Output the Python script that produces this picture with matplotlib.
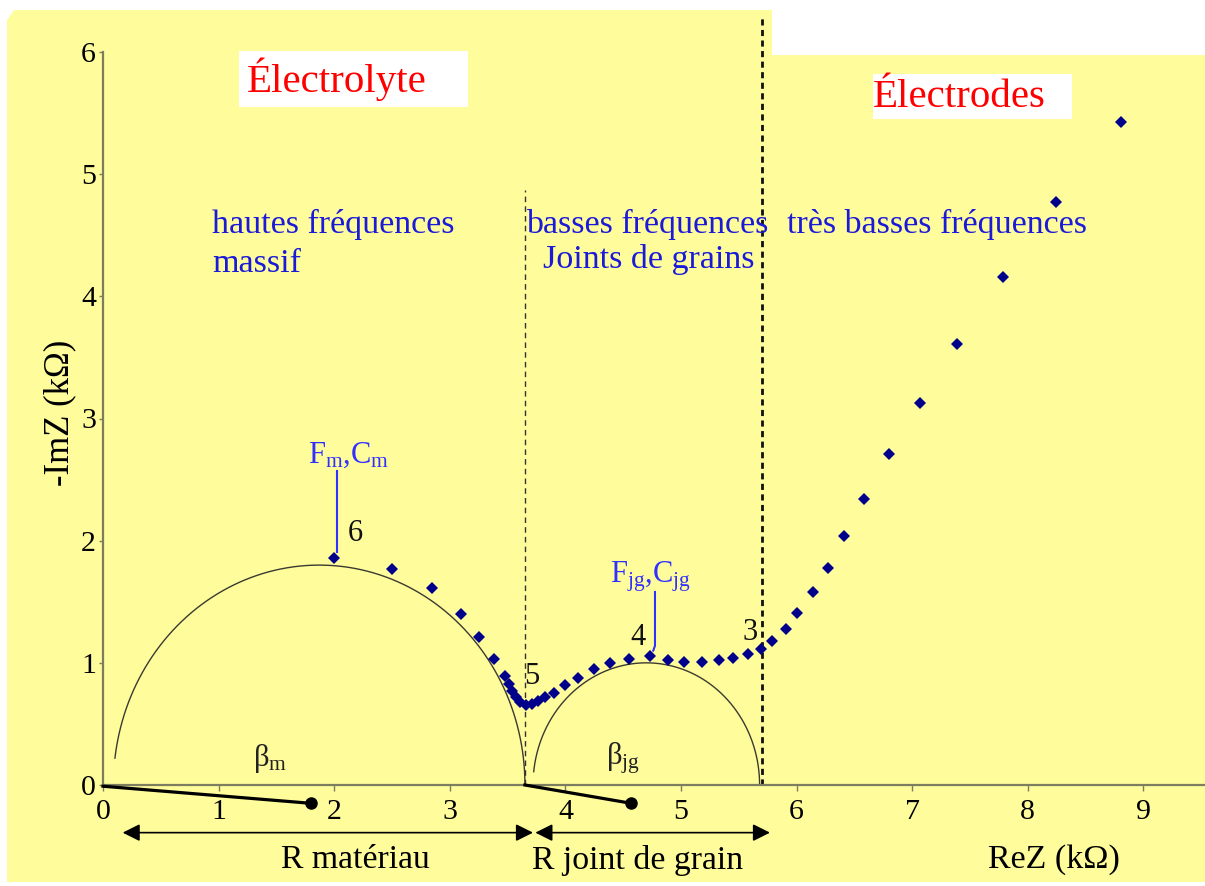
import numpy as np
import matplotlib
matplotlib.use("Agg")
import matplotlib.pyplot as plt
from matplotlib.patches import Polygon, Rectangle

plt.rcParams['font.family'] = ['Liberation Serif', 'DejaVu Serif']
plt.rcParams['mathtext.fontset'] = 'custom'
plt.rcParams['mathtext.rm'] = 'Liberation Serif'
plt.rcParams['mathtext.it'] = 'Liberation Serif:italic'

# Nyquist impedance spectrum (kOhm)
re_z = [2.00, 2.50, 2.85, 3.10, 3.25, 3.385, 3.475, 3.51, 3.535, 3.57, 3.607,
        3.657, 3.708, 3.76, 3.82, 3.90, 4.00, 4.11, 4.25, 4.39, 4.55, 4.73,
        4.89, 5.03, 5.18, 5.33, 5.45, 5.58, 5.69, 5.79, 5.905, 6.005, 6.14,
        6.27, 6.41, 6.585, 6.80, 7.07, 7.39, 7.785, 8.24, 8.81]
im_z = [1.86, 1.77, 1.61, 1.40, 1.21, 1.03, 0.895, 0.83, 0.77, 0.72, 0.68,
        0.655, 0.66, 0.69, 0.72, 0.755, 0.815, 0.878, 0.947, 1.00, 1.03, 1.056,
        1.023, 1.004, 1.009, 1.023, 1.04, 1.07, 1.11, 1.18, 1.28, 1.405, 1.58,
        1.78, 2.04, 2.345, 2.71, 3.13, 3.61, 4.16, 4.77, 5.43]

# fitted arcs: (centre, half-width, height, start y on the left)
bulk_arc = (1.87, 1.78, 1.80, 0.22)
grain_arc = (4.70, 0.98, 1.00, 0.109)

r_material = 3.65
r_total = 5.70

x_ticks = [0, 1, 2, 3, 4, 5, 6, 7, 8, 9]
y_ticks = [0, 1, 2, 3, 4, 5, 6]

W, H = 1205, 886
fig = plt.figure(figsize=(W / 100, H / 100), dpi=100)
fig.patch.set_facecolor('white')

# pale yellow slide background
bg_px = [(7, 882), (7, 20), (14, 10), (772, 10), (772, 55), (1205, 55), (1205, 882)]
bg = Polygon([(x / W, 1 - y / H) for x, y in bg_px], closed=True,
             transform=fig.transFigure, facecolor='#fffc9c', edgecolor='none', zorder=-10)
fig.patches.append(bg)

ax = fig.add_axes([103 / W, 1 - 785 / H, (W - 103) / W, (785 - 52) / H])
ax.set_facecolor('none')
ax.set_xlim(0, (W - 103) / 115.6)
ax.set_ylim(0, 6)
for s in ('top', 'right'):
    ax.spines[s].set_visible(False)
for s in ('left', 'bottom'):
    ax.spines[s].set_color('#7d7d60')
    ax.spines[s].set_linewidth(1.6)
ax.set_xticks(x_ticks)
ax.set_yticks(y_ticks)
ax.tick_params(axis='x', length=4, width=1, color='#7d7d60', pad=6, labelsize=21.5)
ax.tick_params(axis='y', length=3, width=1, color='#7d7d60', pad=2, labelsize=21.5)


def draw_arc(arc):
    xc, a, b, y_start = arc
    t0 = np.pi - np.arcsin(y_start / b)
    t = np.linspace(0, t0, 300)
    ax.plot(xc + a * np.cos(t), b * np.sin(t), color='#3a3a30', lw=1.0, zorder=2)


draw_arc(bulk_arc)
draw_arc(grain_arc)

ax.plot(re_z, im_z, linestyle='none', marker='D', ms=6.3, mew=0,
        color='#00008b', zorder=4)

# boundaries between regions
ax.plot([r_material, r_material], [0, 4.87], color='#333333', lw=1.0,
        ls=(0, (4, 3)), clip_on=False, zorder=1)
ax.plot([r_total, r_total], [0, 6.28], color='#111111', lw=2.0,
        ls=(0, (2.2, 1.6)), clip_on=False, zorder=1)

# region titles on white boxes
ax.add_patch(Rectangle((1.18, 5.55), 1.98, 0.46, facecolor='white', edgecolor='none',
                       clip_on=False, zorder=1))
ax.text(1.245, 5.78, 'Électrolyte', color='red', fontsize=29.5, va='center', ha='left',
        clip_on=False, zorder=3)
ax.add_patch(Rectangle((6.66, 5.45), 1.72, 0.37, facecolor='white', edgecolor='none',
                       clip_on=False, zorder=1))
ax.text(6.66, 5.63, 'Électrodes', color='red', fontsize=29.5, va='center', ha='left',
        clip_on=False, zorder=3)

blue = '#1a1ad8'
fs_blue = 24.5
ax.text(0.943, 4.517, 'hautes fréquences', color=blue, fontsize=fs_blue, va='baseline')
ax.text(0.943, 4.198, 'massif', color=blue, fontsize=fs_blue, va='baseline')
ax.text(3.66, 4.517, 'basses fréquences', color=blue, fontsize=fs_blue, va='baseline')
ax.text(3.81, 4.23, 'Joints de grains', color=blue, fontsize=fs_blue, va='baseline')
ax.text(5.917, 4.517, 'très basses fréquences', color=blue, fontsize=fs_blue, va='baseline')

# characteristic frequency markers
lead = '#3030ff'
ax.plot([2.02, 2.02], [1.91, 2.57], color=lead, lw=1.5, zorder=3)
ax.text(1.77, 2.64, r'F$_{\mathrm{m}}$,C$_{\mathrm{m}}$', color=lead, fontsize=22,
        va='baseline')
ax.plot([4.775, 4.775, 4.76], [1.58, 1.14, 1.10], color=lead, lw=1.5, zorder=3)
ax.text(4.386, 1.66, r'F$_{\mathrm{jg}}$,C$_{\mathrm{jg}}$', color=lead, fontsize=22,
        va='baseline')

for txt, x, y in [('6', 2.18, 2.06), ('4', 4.63, 1.21), ('3', 5.60, 1.25), ('5', 3.71, 0.89)]:
    ax.text(x, y, txt, fontsize=22, ha='center', va='center', color='#111111')

# phase-angle indicators
ax.text(1.30, 0.155, r'β$_{\mathrm{m}}$', fontsize=22, va='baseline', color='#222222')
ax.text(4.35, 0.17, r'β$_{\mathrm{jg}}$', fontsize=22, va='baseline', color='#222222')
ax.plot([0, 1.80], [-0.01, -0.15], color='black', lw=2.3, clip_on=False, zorder=5)
ax.plot([1.80], [-0.15], 'o', color='black', ms=8, clip_on=False, zorder=5)
ax.plot([r_material, 4.57], [0, -0.15], color='black', lw=2.3, clip_on=False, zorder=5)
ax.plot([4.57], [-0.15], 'o', color='black', ms=8, clip_on=False, zorder=5)

# resistance spans
arrow = dict(arrowstyle='<|-|>', color='black', lw=1.2, mutation_scale=26,
             shrinkA=0, shrinkB=0)
ax.annotate('', xy=(0.17, -0.39), xytext=(3.72, -0.39), xycoords='data',
            arrowprops=arrow, annotation_clip=False)
ax.annotate('', xy=(3.74, -0.39), xytext=(5.77, -0.39), xycoords='data',
            arrowprops=arrow, annotation_clip=False)

fig.text(355 / W, 1 - 860 / H, 'R matériau', fontsize=24.3, ha='center', va='center')
fig.text(638 / W, 1 - 860 / H, 'R joint de grain', fontsize=24.3, ha='center', va='center')
fig.text(1054 / W, 1 - 860 / H, 'ReZ (kΩ)', fontsize=24.5, ha='center', va='center')
fig.text(60 / W, 1 - 413 / H, '-ImZ (kΩ)', fontsize=25, ha='center', va='center',
         rotation=90)

fig.savefig('out.png', dpi=100)
